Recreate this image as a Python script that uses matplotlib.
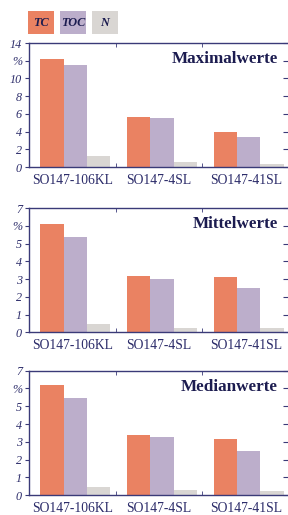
import matplotlib
matplotlib.use("Agg")
import matplotlib.pyplot as plt
from matplotlib.patches import Rectangle
import numpy as np

plt.rcParams['font.family'] = ['Liberation Serif', 'DejaVu Serif']

cores = ["SO147-106KL", "SO147-4SL", "SO147-41SL"]
series = ["TC", "TOC", "N"]
colors = ["#EA8262", "#BCAECB", "#D9D6D3"]

max_tc = [12.2, 5.7, 4.0]
max_toc = [11.5, 5.5, 3.4]
max_n = [1.2, 0.56, 0.34]

mean_tc = [6.1, 3.19, 3.1]
mean_toc = [5.38, 3.0, 2.48]
mean_n = [0.47, 0.26, 0.22]

med_tc = [6.2, 3.4, 3.15]
med_toc = [5.45, 3.26, 2.47]
med_n = [0.47, 0.32, 0.22]

panels = [
    ("Maximalwerte", [max_tc, max_toc, max_n], 14, [0, 2, 4, 6, 8, 10, 12, 14]),
    ("Mittelwerte", [mean_tc, mean_toc, mean_n], 7, list(range(8))),
    ("Medianwerte", [med_tc, med_toc, med_n], 7, list(range(8))),
]

navy = "#3a3a78"
textcol = "#2c2c6a"
titlecol = "#1c1c50"

fig = plt.figure(figsize=(2.88, 5.15), dpi=100)

# axes boxes in figure fraction (bottom, height)
boxes = [(0.6757, 0.2408), (0.3547, 0.2414), (0.0383, 0.2419)]
offsets = [-0.235, 0.035, 0.305]
width = 0.27
x = np.arange(len(cores))

for (title, values, ymax, yt), (b, h) in zip(panels, boxes):
    ax = fig.add_axes([0.1007, b, 0.903, h])
    for vals, off, col in zip(values, offsets, colors):
        ax.bar(x + off, vals, width, color=col, edgecolor="none")
    ax.set_xlim(-0.5, 2.5)
    ax.set_ylim(0, ymax)
    ax.set_yticks(yt)
    labels = [str(t) for t in yt]
    labels[-2] = "%"
    ax.set_yticklabels(labels, fontsize=8.7, style="italic", color=textcol)
    ax.set_xticks(x)
    ax.set_xticklabels(cores, fontsize=9.8, color=textcol)
    ax.tick_params(axis="x", length=0, pad=5)
    ax.set_xticks([0.5, 1.5], minor=True)
    ax.tick_params(axis="x", which="minor", direction="in", length=3,
                   top=True, bottom=True, color=navy)
    ax.tick_params(axis="y", direction="out", length=3, color=navy, pad=2)
    for s in ax.spines.values():
        s.set_color(navy)
        s.set_linewidth(1.0)
    # inward ticks on the right side
    ax2 = ax.twinx()
    ax2.set_ylim(0, ymax)
    ax2.set_yticks(yt)
    ax2.tick_params(axis="y", direction="in", length=4, color=navy,
                    labelright=False)
    for s in ax2.spines.values():
        s.set_visible(False)
    ax.text(0.957, 0.87, title, transform=ax.transAxes, ha="right", va="center",
            fontsize=12.3, fontweight="bold", color=titlecol)

# legend boxes
lx = [28, 60, 92]
for name, col, px in zip(series, colors, lx):
    fig.patches.append(Rectangle((px / 288, 1 - 34 / 515), 26 / 288, 23 / 515,
                                 transform=fig.transFigure, facecolor=col,
                                 edgecolor="none"))
    fig.text((px + 13) / 288, 1 - 22.5 / 515, name, ha="center", va="center",
             fontsize=8.8, fontweight="bold", style="italic", color=titlecol)

plt.savefig("out.png", dpi=100)
plt.close()
